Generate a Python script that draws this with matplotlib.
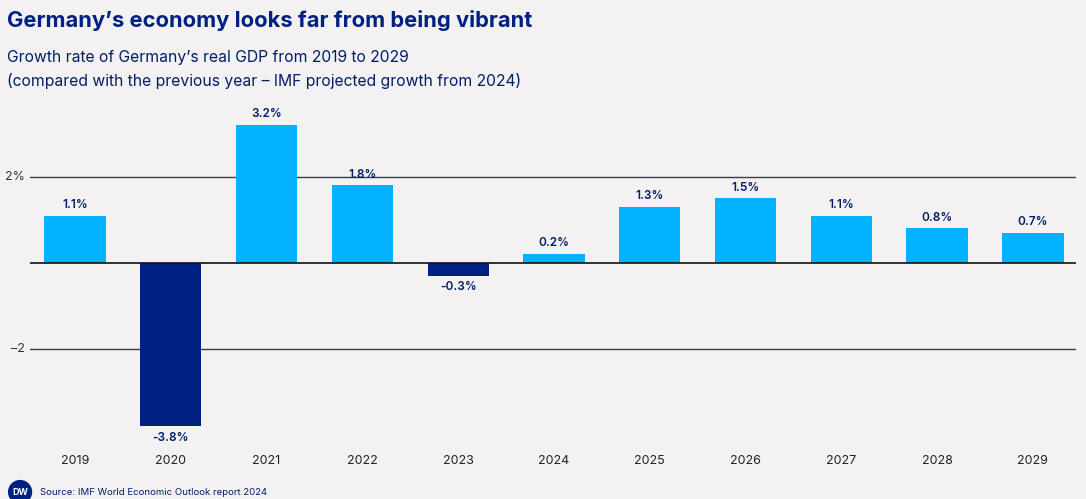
import matplotlib.pyplot as plt
from matplotlib.patches import Ellipse

years = ["2019", "2020", "2021", "2022", "2023", "2024", "2025", "2026", "2027", "2028", "2029"]
growth = [1.1, -3.8, 3.2, 1.8, -0.3, 0.2, 1.3, 1.5, 1.1, 0.8, 0.7]
value_labels = ["1.1%", "-3.8%", "3.2%", "1.8%", "-0.3%", "0.2%", "1.3%", "1.5%", "1.1%", "0.8%", "0.7%"]
ytick_vals = [-2, 2]
ytick_labels = ["\u20132", "2%"]

bg = "#f3f1f2"
light_blue = "#00b2ff"
navy = "#002082"
text_col = "#001f66"

plt.rcParams["font.family"] = ["Inter", "DejaVu Sans"]

fig = plt.figure(figsize=(10.86, 4.99), dpi=100, facecolor=bg)
ax = fig.add_axes([0.0276, 0.111, 0.9632, 0.6725], facecolor=bg)

x = list(range(len(years)))
colors = [navy if v < 0 else light_blue for v in growth]
ax.bar(x, growth, width=0.64, color=colors, zorder=3)

# gridlines
for v in ytick_vals:
    ax.axhline(v, color="#3a3d4a", lw=1.0, zorder=1)
ax.axhline(0, color="#111111", lw=1.2, zorder=4)

for xi, v, lab in zip(x, growth, value_labels):
    if v >= 0:
        ax.annotate(lab, (xi, v), xytext=(0, 3.5), textcoords="offset points",
                    ha="center", va="bottom", fontsize=8.5, fontweight="semibold", color=text_col)
    else:
        ax.annotate(lab, (xi, v), xytext=(0, -4), textcoords="offset points",
                    ha="center", va="top", fontsize=8.5, fontweight="semibold", color=text_col)

ax.set_xlim(-0.47, 10.45)
ax.set_ylim(-4.2, 3.6)
ax.set_xticks(x)
ax.set_xticklabels(years, fontsize=9, color="#222222")
ax.tick_params(axis="x", length=0, pad=8)
ax.set_yticks([])
for v, lab in zip(ytick_vals, ytick_labels):
    ax.text(-0.0045, v, lab, transform=ax.get_yaxis_transform(), ha="right", va="center",
            fontsize=9, color="#333333")
for s in ax.spines.values():
    s.set_visible(False)

fig.text(0.0065, 0.958, "Germany\u2019s economy looks far from being vibrant", fontsize=15.8,
         fontweight="bold", color=navy, ha="left", va="center")
fig.text(0.0065, 0.885, "Growth rate of Germany\u2019s real GDP from 2019 to 2029", fontsize=11.3,
         color=text_col, ha="left", va="center")
fig.text(0.0065, 0.837, "(compared with the previous year \u2013 IMF projected growth from 2024)", fontsize=11.3,
         color=text_col, ha="left", va="center")

# DW logo + source
logo = Ellipse((0.0185, 0.014), 0.021, 0.021 * 1086 / 499, transform=fig.transFigure,
               color=navy, clip_on=False)
fig.add_artist(logo)
fig.text(0.0185, 0.014, "DW", fontsize=6.5, fontweight="bold", color="white", ha="center", va="center")
fig.text(0.037, 0.014, "Source: IMF World Economic Outlook report 2024", fontsize=6.9,
         color=text_col, ha="left", va="center")

fig.savefig("out.png", dpi=100, facecolor=bg)
